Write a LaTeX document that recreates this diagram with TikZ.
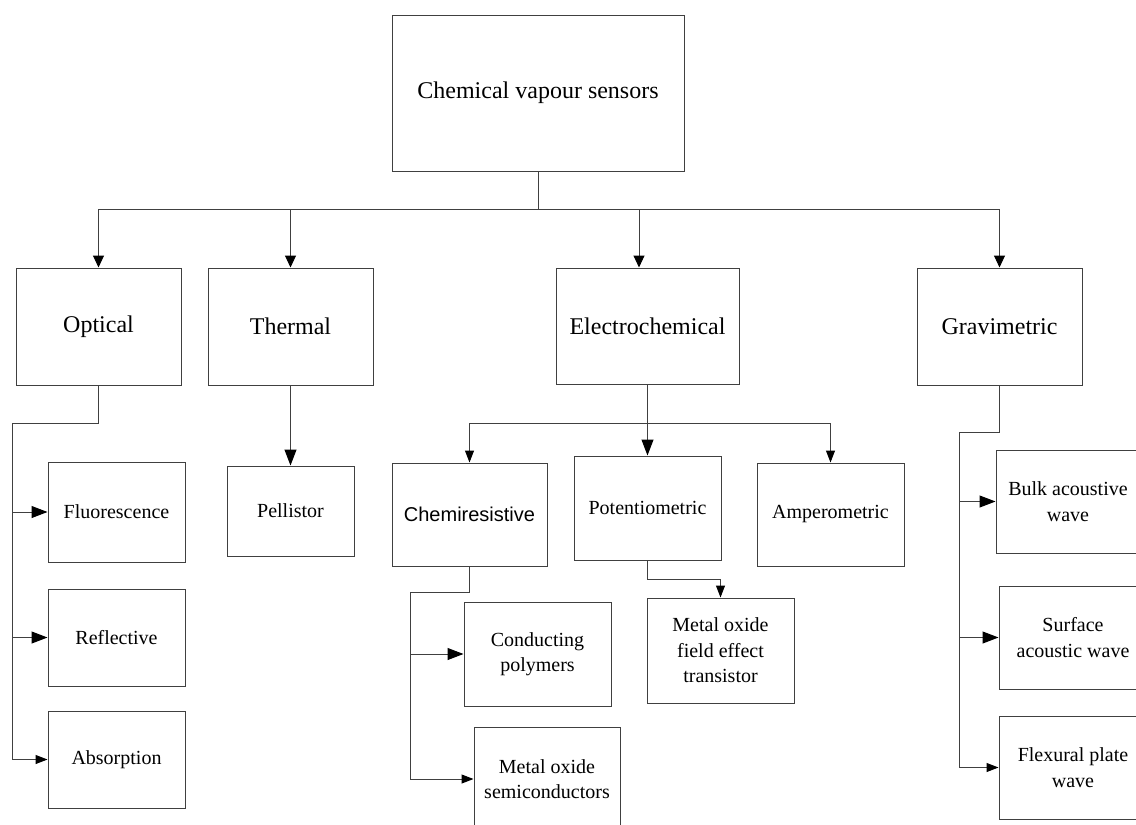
\documentclass[tikz,border=0pt]{standalone}
\usepackage{fontspec}
\setmainfont{Liberation Serif}
\newfontfamily\arialfont{Liberation Sans}
\usetikzlibrary{arrows.meta}

\tikzset{
  box/.style={draw=black!75, line width=1pt, fill=white, align=center,
    inner sep=0pt, text=black},
  bigbox/.style={box, font=\fontsize{24}{28}\selectfont},
  smallbox/.style={box, font=\fontsize{20}{25.5}\selectfont},
  wire/.style={draw=black!75, line width=1pt},
  arrbig/.style={wire, -{Triangle[length=16pt,width=12pt,color=black]}},
  arrmid/.style={wire, -{Triangle[length=12pt,width=11pt,color=black]}},
  arrsmall/.style={wire, -{Triangle[length=12pt,width=9pt,color=black]}},
}

\begin{document}
\begin{tikzpicture}[x=1pt, y=-1pt]
\useasboundingbox (0,0) rectangle (1136,825);

% root
\node[bigbox, minimum width=292pt, minimum height=156pt] (root) at (538,93) {Chemical vapour sensors};

% main categories
\node[bigbox, minimum width=165pt, minimum height=117pt] (optical) at (98.5,326.5) {Optical};
\node[bigbox, minimum width=165pt, minimum height=117pt] (thermal) at (290.5,326.5) {Thermal};
\node[bigbox, minimum width=183pt, minimum height=116pt] (electro) at (647.5,326) {Electrochemical};
\node[bigbox, minimum width=165pt, minimum height=117pt] (gravi) at (999.5,326.5) {Gravimetric};

% optical
\node[smallbox, minimum width=137pt, minimum height=100pt] (fluor) at (116.5,512) {Fluorescence};
\node[smallbox, minimum width=137pt, minimum height=97pt] (reflect) at (116.5,637.5) {Reflective};
\node[smallbox, minimum width=137pt, minimum height=97pt] (absorb) at (116.5,759.5) {Absorption};

% thermal
\node[smallbox, minimum width=127pt, minimum height=90pt] (pellistor) at (290.5,511) {Pellistor};

% electrochemical
\node[smallbox, minimum width=155pt, minimum height=103pt, font=\arialfont\fontsize{20}{24}\selectfont] (chemi) at (469.5,514.5) {Chemiresistive};
\node[smallbox, minimum width=147pt, minimum height=104pt] (potentio) at (647.5,508) {Potentiometric};
\node[smallbox, minimum width=147pt, minimum height=103pt] (ampero) at (830.5,514.5) {Amperometric};
\node[smallbox, minimum width=147pt, minimum height=105pt] (mofet) at (720.5,650.5) {Metal oxide\\field effect\\transistor};
\node[smallbox, minimum width=147pt, minimum height=104pt] (polymer) at (537.5,654) {Conducting\\polymers};
\node[smallbox, minimum width=146pt, minimum height=104pt] (mos) at (547,779) {Metal oxide\\semiconductors};

% gravimetric
\node[smallbox, minimum width=144pt, minimum height=103pt] (bulk) at (1068,501.5) {Bulk acoustive\\wave};
\node[smallbox, minimum width=148pt, minimum height=103pt] (surface) at (1073,637.5) {Surface\\acoustic wave};
\node[smallbox, minimum width=148pt, minimum height=103pt] (flex) at (1073,767.5) {Flexural plate\\wave};

% junction points
\coordinate (bus) at (538,209);
\coordinate (oj) at (12,423);
\coordinate (ej) at (647.5,423.5);
\coordinate (pj) at (647.5,579);
\coordinate (cj) at (410,592);
\coordinate (gj) at (959,432);

% root to categories
\draw[wire] (root.south) -- (bus);
\draw[arrmid] (bus) -| (optical.north);
\draw[arrmid] (bus) -| (thermal.north);
\draw[arrmid] (bus) -| ([xshift=-8.5pt]electro.north);
\draw[arrmid] (bus) -| (gravi.north);

% optical branch
\draw[wire] (optical.south) |- (oj);
\draw[arrsmall] (oj) |- (absorb.west);
\draw[arrbig] (oj |- fluor.west) -- (fluor.west);
\draw[arrbig] (oj |- reflect.west) -- (reflect.west);

% thermal branch
\draw[arrbig] (thermal.south) -- (pellistor.north);

% electrochemical branch
\draw[arrbig] (electro.south) -- (potentio.north);
\draw[arrsmall] (ej) -| (chemi.north);
\draw[arrsmall] (ej) -| (ampero.north);
\draw[arrsmall] (potentio.south) |- (pj) -| (mofet.north);
\draw[wire] (chemi.south) |- (cj);
\draw[arrsmall] (cj) |- (mos.west);
\draw[arrbig] (cj |- polymer.west) -- (polymer.west);

% gravimetric branch
\draw[wire] (gravi.south) |- (gj);
\draw[arrsmall] (gj) |- (flex.west);
\draw[arrbig] (gj |- bulk.west) -- (bulk.west);
\draw[arrbig] (gj |- surface.west) -- (surface.west);
\end{tikzpicture}
\end{document}
